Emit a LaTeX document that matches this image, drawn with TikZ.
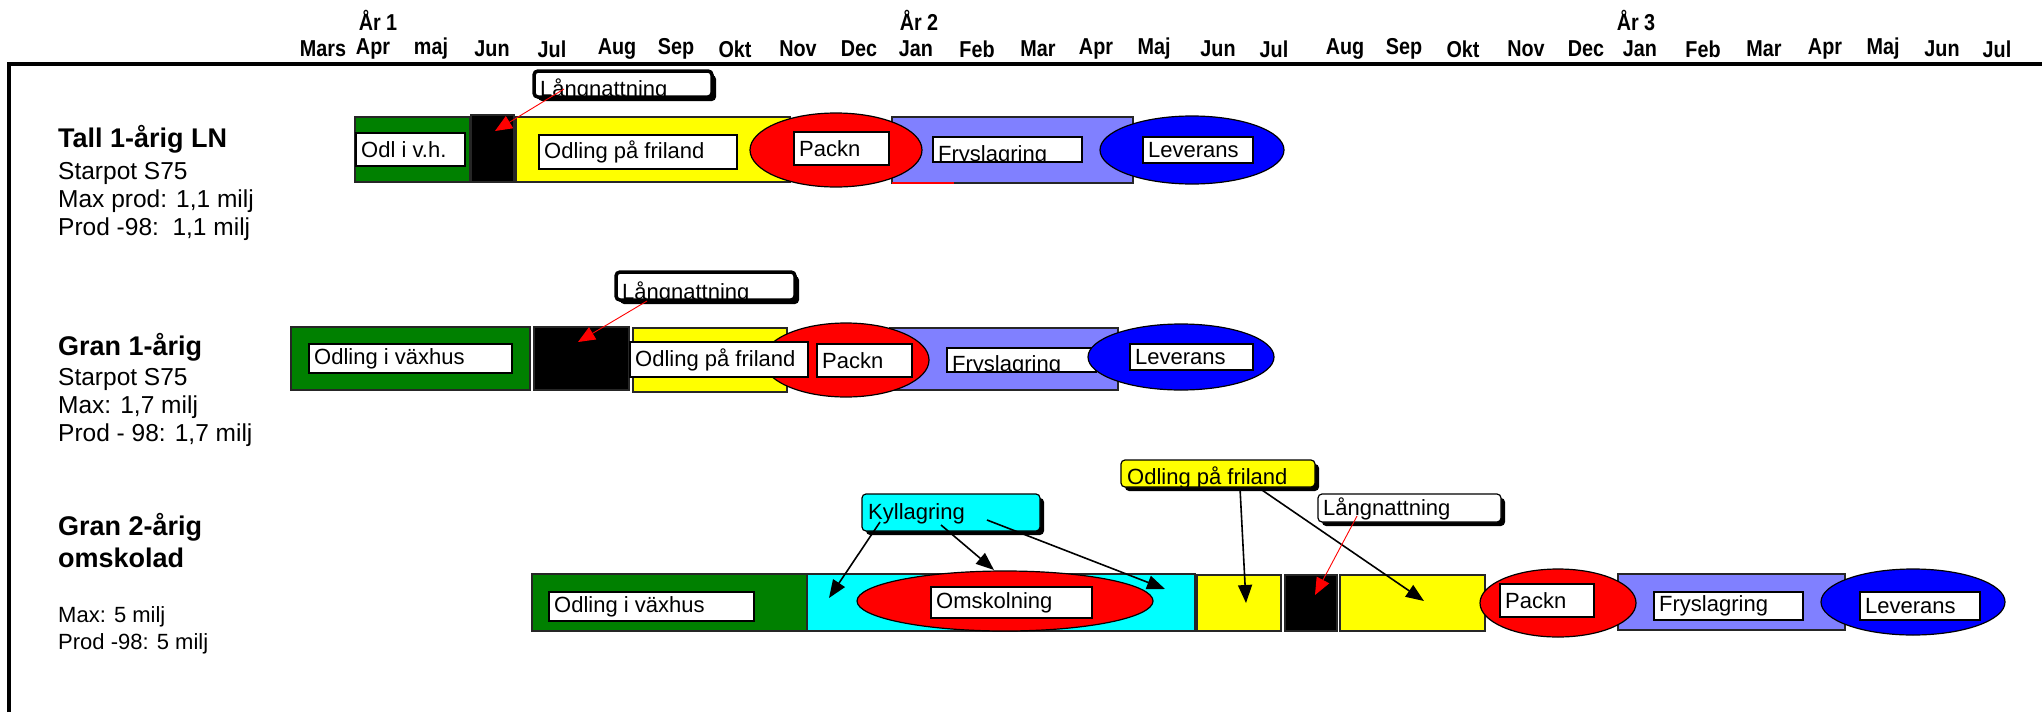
\documentclass[tikz,border=0pt]{standalone}
\usepackage{fontspec}
\setmainfont{Liberation Sans}
\newfontfamily\axisfont[FakeStretch=0.86]{Liberation Sans}
\usetikzlibrary{fit,shadows,arrows.meta,shapes.geometric}

\definecolor{gfill}{RGB}{0,128,0}
\definecolor{yfill}{RGB}{255,255,0}
\definecolor{pfill}{RGB}{128,128,255}
\definecolor{bfill}{RGB}{0,0,255}
\definecolor{rfill}{RGB}{255,0,0}
\definecolor{cfill}{RGB}{0,255,255}

\tikzset{
  bar/.style={draw=black!85, line width=1.2pt, inner sep=0pt, outer sep=0pt},
  lab/.style={draw=black, fill=white, line width=1.2pt, inner sep=0pt, outer sep=0pt},
  labtext/.style={inner sep=0pt, font=\fontsize{22}{26}\selectfont},
  oval/.style={ellipse, draw=black, line width=1.2pt, inner sep=0pt, outer sep=0pt},
  callout/.style={rounded corners=4pt, draw=black, line width=1.2pt, inner sep=0pt,
    drop shadow={shadow xshift=4pt, shadow yshift=-4pt, fill=black, opacity=1}},
  heavycallout/.style={callout, line width=3.5pt},
  month/.style={font=\axisfont\bfseries\fontsize{23}{26}\selectfont, inner sep=0pt},
  yearlbl/.style={font=\axisfont\bfseries\fontsize{23}{26}\selectfont, inner sep=0pt},
  rowtitle/.style={font=\bfseries\fontsize{27}{30}\selectfont, inner sep=0pt, anchor=west},
  rowinfo/.style={font=\fontsize{24.5}{28}\selectfont, inner sep=0pt, anchor=west},
  rowinfosmall/.style={font=\fontsize{22}{26}\selectfont, inner sep=0pt, anchor=west},
  redarr/.style={draw=red, line width=0.9pt, -{Triangle[length=17pt,width=14pt]}, red},
  blackarr/.style={draw=black, line width=1.6pt, -{Triangle[length=18pt,width=14pt]}},
}

% white label box with left-aligned text
\newcommand\labelbox[4]{%
  \node[lab, fit={#2 #3}] (#1) {};
  \node[labtext, anchor=west] (#1-txt) at ([xshift=5pt]#1.west) {#4};}
% white label box whose text is cut off at the lower edge
\newcommand\cutlabelbox[5]{%
  \node[lab, fit={#2 #3}] (#1) {};
  \begin{scope}
    \clip ([shift={(0.7pt,0.7pt)}]#1.south west) rectangle ([shift={(-0.7pt,-0.7pt)}]#1.north east);
    \node[labtext, anchor=base west] (#1-txt) at #4 {#5};
  \end{scope}}

\begin{document}
\begin{tikzpicture}[x=1pt, y=-1pt]
\useasboundingbox (0,0) rectangle (2042,712);

% ---- frame ----
\draw[line width=4pt] (9,712) -- (9,64) -- (2042,64);

% ---- time axis ----
\node[yearlbl] (y1) at (378,20) {År 1};
\node[yearlbl] (y2) at (919,20) {År 2};
\node[yearlbl] (y3) at (1636,20) {År 3};
\foreach \x/\t [count=\i] in {323/Mars,373/Apr,431/maj,492/Jun,552/Jul,617/Aug,676/Sep,735/Okt,798/Nov,859/Dec,
  916/Jan,977/Feb,1038/Mar,1096/Apr,1154/Maj,1218/Jun,1274/Jul,1345/Aug,1404/Sep,1463/Okt,1526/Nov,1586/Dec,
  1640/Jan,1703/Feb,1764/Mar,1825/Apr,1883/Maj,1942/Jun,1997/Jul}
  \node[month] (m\i) at (\x,49) {\t};

% ---- row 1: Tall 1-årig LN ----
\node[rowtitle] (r1t) at (58,139) {Tall 1-årig LN};
\node[rowinfo] (r1a) at (58,173) {Starpot S75};
\node[rowinfo] (r1b) at (58,201) {Max prod: 1,1 milj};
\node[rowinfo] (r1c) at (58,229) {Prod -98:\ \ 1,1 milj};

\node[bar, fill=gfill, fit={(355,117) (470,182)}] (t1vh) {};
\labelbox{t1vhl}{(356,133)}{(465,166)}{Odl i v.h.}
\node[bar, fill=black, fit={(471,115) (514,182)}] (t1ln) {};
\node[bar, fill=yfill, fit={(516,117) (790,182)}] (t1fr) {};
\labelbox{t1frl}{(539,135)}{(737,169)}{Odling på friland}
\node[bar, fill=pfill, fit={(892,117) (1133,183)}] (t1fy) {};
\draw[red, line width=2pt] (t1fy.south west) -- ++(62,0);
\node[oval, fill=rfill, minimum width=172pt, minimum height=74pt] (t1pk) at (836,150) {};
\labelbox{t1pkl}{(794,132)}{(889,165)}{Packn}
\cutlabelbox{t1fyl}{(933,137)}{(1082,162)}{(938,161)}{Fryslagring}
\node[oval, fill=bfill, minimum width=184pt, minimum height=68pt] (t1lv) at (1192,150) {};
\labelbox{t1lvl}{(1143,137)}{(1253,163)}{Leverans}

\node[heavycallout, fill=white, fit={(534,71) (712,97)}] (c1) {};
\begin{scope}
  \clip ([shift={(2pt,2pt)}]c1.south west) rectangle ([shift={(-2pt,-2pt)}]c1.north east);
  \node[labtext, anchor=base west] (c1-txt) at (540,96) {Långnattning};
\end{scope}
\coordinate (c1s) at (564,89);
\coordinate (c1e) at (495,131);
\draw[redarr] (c1s) -- (c1e);

% ---- row 2: Gran 1-årig ----
\node[rowtitle] (r2t) at (58,347) {Gran 1-årig};
\node[rowinfo] (r2a) at (58,379) {Starpot S75};
\node[rowinfo] (r2b) at (58,407) {Max: 1,7 milj};
\node[rowinfo] (r2c) at (58,435) {Prod - 98: 1,7 milj};

\node[bar, fill=gfill, fit={(291,327) (530,390)}] (g1vh) {};
\labelbox{g1vhl}{(309,344)}{(512,373)}{Odling i växhus}
\node[bar, fill=black, fit={(534,327) (629,390)}] (g1ln) {};
\node[bar, fill=yfill, fit={(633,328) (787,392)}] (g1fr) {};
\node[bar, fill=pfill, fit={(890,328) (1118,390)}] (g1fy) {};
\node[oval, fill=rfill, minimum width=166pt, minimum height=74pt] (g1pk) at (846,360) {};
\labelbox{g1frl}{(630,342)}{(808,377)}{Odling på friland}
\labelbox{g1pkl}{(817,344)}{(912,377)}{Packn}
\cutlabelbox{g1fyl}{(947,348)}{(1096,372)}{(952,371)}{Fryslagring}
\node[oval, fill=bfill, minimum width=186pt, minimum height=66pt] (g1lv) at (1181,357) {};
\labelbox{g1lvl}{(1130,344)}{(1253,370)}{Leverans}

\node[heavycallout, fill=white, fit={(616,272) (795,300)}] (c2) {};
\begin{scope}
  \clip ([shift={(2pt,2pt)}]c2.south west) rectangle ([shift={(-2pt,-2pt)}]c2.north east);
  \node[labtext, anchor=base west] (c2-txt) at (622,299) {Långnattning};
\end{scope}
\coordinate (c2s) at (647,301);
\coordinate (c2e) at (578,342);
\draw[redarr] (c2s) -- (c2e);

% ---- row 3: Gran 2-årig omskolad ----
\node[rowtitle] (r3t) at (58,527) {Gran 2-årig};
\node[rowtitle] (r3u) at (58,558) {omskolad};
\node[rowinfosmall] (r3a) at (58,617) {Max: 5 milj};
\node[rowinfosmall] (r3b) at (58,644) {Prod -98: 5 milj};

\node[bar, fill=gfill, fit={(532,574) (807,631)}] (h1vh) {};
\labelbox{h1vhl}{(549,592)}{(754,621)}{Odling i växhus}
\node[bar, fill=cfill, fit={(807,574) (1195,631)}] (h1ky) {};
\node[oval, fill=rfill, minimum width=296pt, minimum height=60pt] (h1om) at (1005,601) {};
\labelbox{h1oml}{(931,587)}{(1092,618)}{Omskolning}
\node[bar, fill=yfill, fit={(1197,575) (1281,631)}] (h1f1) {};
\node[bar, fill=black, fit={(1285,575) (1337,631)}] (h1ln) {};
\node[bar, fill=yfill, fit={(1340,575) (1485,631)}] (h1f2) {};
\node[bar, fill=pfill, fit={(1618,574) (1845,630)}] (h1fy) {};
\node[oval, fill=rfill, minimum width=156pt, minimum height=68pt] (h1pk) at (1558,603) {};
\labelbox{h1pkl}{(1500,584)}{(1594,617)}{Packn}
\labelbox{h1fyl}{(1654,592)}{(1803,620)}{Fryslagring}
\node[oval, fill=bfill, minimum width=184pt, minimum height=66pt] (h1lv) at (1913,602) {};
\labelbox{h1lvl}{(1860,592)}{(1980,620)}{Leverans}

% callouts of row 3
\node[callout, fill=cfill, fit={(862,494) (1040,531)}] (k3) {};
\node[labtext, anchor=base west] (k3-txt) at (868,519) {Kyllagring};
\node[callout, fill=yfill, fit={(1121,460) (1315,487)}] (o3) {};
\begin{scope}
  \clip ([shift={(0.7pt,0.7pt)}]o3.south west) rectangle ([shift={(-0.7pt,-0.7pt)}]o3.north east);
  \node[labtext, anchor=base west] (o3-txt) at (1127,484) {Odling på friland};
\end{scope}
\node[callout, fill=white, fit={(1318,494) (1501,522)}] (l3) {};
\node[labtext, anchor=base west] (l3-txt) at (1323,515) {Långnattning};

\coordinate (k3a) at (880,522);  \coordinate (k3at) at (829,598);
\coordinate (k3b) at (941,525);  \coordinate (k3bt) at (994,570);
\coordinate (k3c) at (987,520);  \coordinate (k3ct) at (1165,589);
\draw[blackarr] (k3a) -- (k3at);
\draw[blackarr] (k3b) -- (k3bt);
\draw[blackarr] (k3c) -- (k3ct);

\coordinate (o3a) at (1240,488); \coordinate (o3at) at (1246,603);
\coordinate (o3b) at (1259,488); \coordinate (o3bt) at (1424,601);
\draw[blackarr] (o3a) -- (o3at);
\draw[blackarr] (o3b) -- (o3bt);

\coordinate (l3s) at (1357,516); \coordinate (l3e) at (1315,595);
\draw[redarr] (l3s) -- (l3e);
\end{tikzpicture}
\end{document}
